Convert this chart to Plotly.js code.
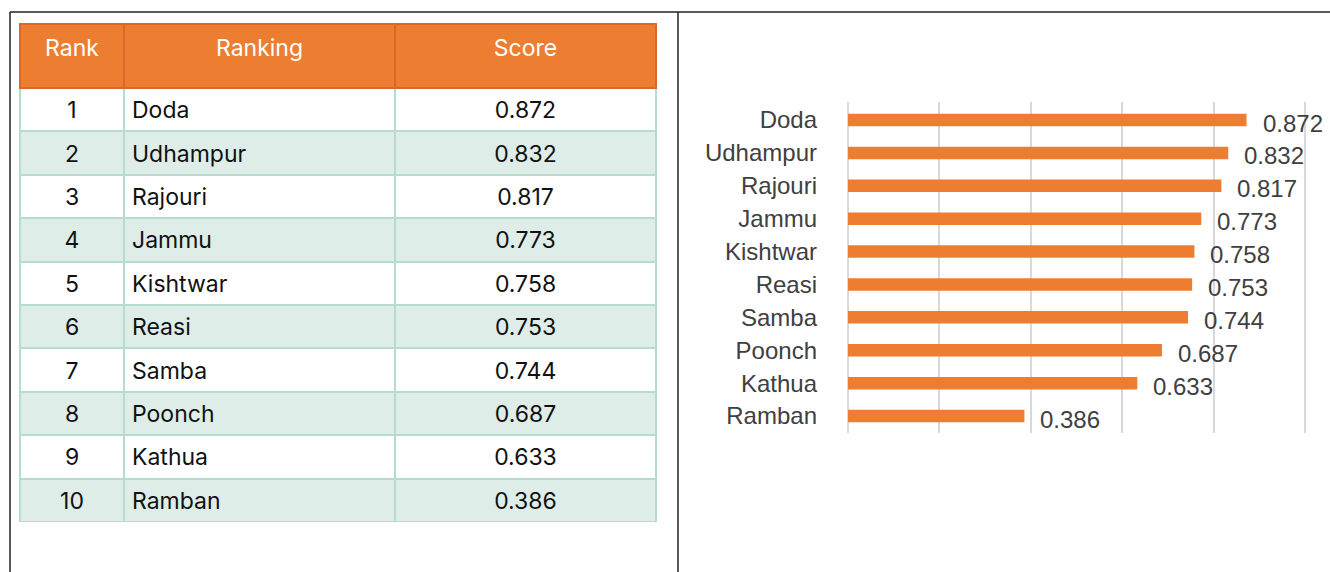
<!DOCTYPE html>
<html><head><meta charset="utf-8">
<script src="https://cdn.plot.ly/plotly-3.0.1.min.js"></script>
<style>html,body{margin:0;padding:0;background:#fff;}#chart{width:1330px;height:572px;}</style>
</head><body><div id="chart"></div>
<script>
const ranks = [1,2,3,4,5,6,7,8,9,10];
const districts = ['Doda','Udhampur','Rajouri','Jammu','Kishtwar','Reasi','Samba','Poonch','Kathua','Ramban'];
const scores = [0.872,0.832,0.817,0.773,0.758,0.753,0.744,0.687,0.633,0.386];
const headers = ['Rank','Ranking','Score'];

const W = 1330, H = 572;
const px = x => x / W, py = y => 1 - y / H;

const rowFills = ranks.map((r,i) => i % 2 === 0 ? '#FFFFFF' : '#DEEDE7');

const table = {
  type: 'table',
  domain: {x: [px(20), px(656)], y: [py(522), py(24)]},
  columnwidth: [104, 271, 261],
  header: {
    values: headers,
    align: 'center',
    height: 64,
    fill: {color: '#ED7D31'},
    line: {color: '#D8692A', width: 2},
    font: {family: 'Inter, sans-serif', size: 23, color: '#FFFFFF'}
  },
  cells: {
    values: [ranks, districts, scores.map(s => s.toFixed(3))],
    align: ['center','left','center'],
    height: 43.4,
    fill: {color: [rowFills, rowFills, rowFills]},
    line: {color: '#B5DCCD', width: 2},
    font: {family: 'Inter, sans-serif', size: 23, color: '#111111'}
  }
};

const bars = {
  type: 'bar',
  orientation: 'h',
  x: scores,
  y: districts,
  xaxis: 'x', yaxis: 'y',
  marker: {color: '#ED7D31'},
  width: 0.38,
  hoverinfo: 'none'
};

const valueLabels = scores.map((s, i) => ({
  x: s, y: districts[i], xref: 'x', yref: 'y',
  text: s.toFixed(3), showarrow: false,
  xanchor: 'left', yanchor: 'middle', xshift: 14, yshift: -3,
  font: {family: 'Liberation Sans, Arial, sans-serif', size: 24, color: '#404040'}
}));

const layout = {
  width: W, height: H,
  margin: {l: 0, r: 0, t: 0, b: 0},
  paper_bgcolor: '#FFFFFF', plot_bgcolor: '#FFFFFF',
  showlegend: false,
  xaxis: {
    domain: [px(848), px(1306.4)],
    anchor: 'y',
    range: [0, 1.003],
    tickvals: [0, 0.2, 0.4, 0.6, 0.8, 1.0],
    showticklabels: false,
    showgrid: true, gridcolor: '#D9D9D9', gridwidth: 2,
    zeroline: true, zerolinecolor: '#D9D9D9', zerolinewidth: 2,
    showline: false, ticks: ''
  },
  yaxis: {
    domain: [py(432.5), py(101.5)],
    anchor: 'x',
    autorange: 'reversed',
    type: 'category',
    showgrid: false, zeroline: false, showline: false, ticks: '',
    ticklabelstandoff: 30,
    tickfont: {family: 'Liberation Sans, Arial, sans-serif', size: 24, color: '#404040'}
  },
  annotations: valueLabels,
  shapes: [
    {type: 'line', xref: 'paper', yref: 'paper', x0: px(10), x1: 1, y0: py(12), y1: py(12), line: {color: '#222', width: 1.5}},
    {type: 'line', xref: 'paper', yref: 'paper', x0: px(10), x1: px(10), y0: py(12), y1: 0, line: {color: '#222', width: 1.5}},
    {type: 'line', xref: 'paper', yref: 'paper', x0: px(678), x1: px(678), y0: py(12), y1: 0, line: {color: '#222', width: 1.5}}
  ]
};

function shiftTableText() {
  document.querySelectorAll('#chart text.cell-text').forEach(el => {
    const cur = el.getAttribute('transform') || '';
    if (el.__setT === cur) return;
    const isHeader = headers.indexOf(el.textContent) >= 0;
    const t = cur + ' translate(0,' + (isHeader ? 7 : 5) + ')';
    el.setAttribute('transform', t);
    el.__setT = t;
  });
}

Plotly.newPlot('chart', [table, bars], layout, {displayModeBar: false, staticPlot: true}).then(() => {
  shiftTableText();
  setTimeout(shiftTableText, 100);
  setTimeout(shiftTableText, 500);
});
</script>
</body></html>
